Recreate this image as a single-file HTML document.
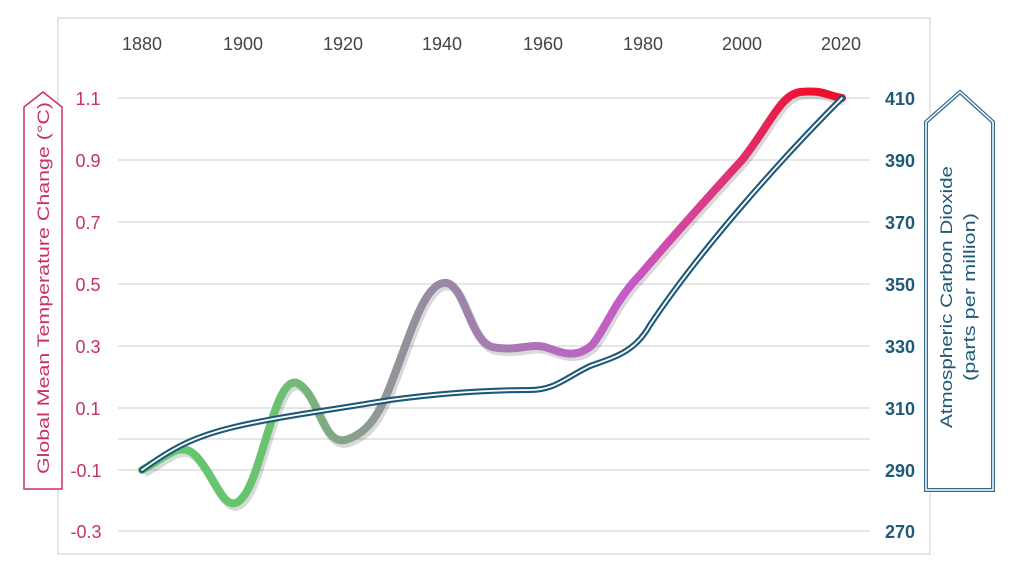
<!DOCTYPE html>
<html><head><meta charset="utf-8"><style>
body{margin:0;background:#fff;}
svg{display:block;font-family:"Liberation Sans",sans-serif;}
</style></head><body>
<svg width="1024" height="576" viewBox="0 0 1024 576">
<defs>
<linearGradient id="tg" gradientUnits="userSpaceOnUse" x1="142" y1="0" x2="842" y2="0">
<stop offset="0" stop-color="#5ccd6a"/>
<stop offset="0.2" stop-color="#6cc070"/>
<stop offset="0.3" stop-color="#8a9f8c"/>
<stop offset="0.43" stop-color="#9a88a6"/>
<stop offset="0.62" stop-color="#b868c0"/>
<stop offset="0.7" stop-color="#c858c8"/>
<stop offset="0.85" stop-color="#e03070"/>
<stop offset="0.95" stop-color="#f01030"/>
<stop offset="1" stop-color="#e81030"/>
</linearGradient>
</defs>
<rect x="58" y="18" width="872" height="536" fill="none" stroke="#ddd" stroke-width="1.5"/>
<g stroke="#ddd" stroke-width="1.5">
<line x1="118" x2="870" y1="98" y2="98"/><line x1="118" x2="870" y1="160" y2="160"/>
<line x1="118" x2="870" y1="222" y2="222"/><line x1="118" x2="870" y1="284" y2="284"/>
<line x1="118" x2="870" y1="346" y2="346"/><line x1="118" x2="870" y1="408" y2="408"/>
<line x1="118" x2="870" y1="439" y2="439"/><line x1="118" x2="870" y1="470" y2="470"/>
<line x1="118" x2="870" y1="531" y2="531"/>
</g>
<g fill="#444" font-size="18" text-anchor="middle">
<text x="142" y="50">1880</text><text x="243" y="50">1900</text><text x="343" y="50">1920</text>
<text x="442" y="50">1940</text><text x="543" y="50">1960</text><text x="643" y="50">1980</text>
<text x="742" y="50">2000</text><text x="841" y="50">2020</text>
</g>
<g fill="#c8306a" font-size="18" text-anchor="middle">
<text x="88" y="105">1.1</text><text x="88" y="167">0.9</text><text x="88" y="229">0.7</text>
<text x="88" y="291">0.5</text><text x="88" y="353">0.3</text><text x="88" y="415">0.1</text>
<text x="86" y="477">-0.1</text><text x="86" y="538">-0.3</text>
</g>
<g fill="#1e5a78" font-size="18" font-weight="bold" text-anchor="middle">
<text x="900" y="105">410</text><text x="900" y="167">390</text><text x="900" y="229">370</text>
<text x="900" y="291">350</text><text x="900" y="353">330</text><text x="900" y="415">310</text>
<text x="900" y="477">290</text><text x="900" y="538">270</text>
</g>
<polygon points="24,489 24,107 43,92 62,107 62,489" fill="#fff" stroke="#c8306a" stroke-width="1.5"/>
<text transform="translate(49,288) rotate(-90)" text-anchor="middle" fill="#c8306a" font-size="17" textLength="372" lengthAdjust="spacingAndGlyphs">Global Mean Temperature Change (°C)</text>
<polygon points="926,490 926,122 960,92 993,122 993,490" fill="#fff" stroke="#2c6e8c" stroke-width="4"/>
<polygon points="926,490 926,122 960,92 993,122 993,490" fill="none" stroke="#fff" stroke-width="1.5"/>
<text transform="translate(952,297) rotate(-90)" text-anchor="middle" fill="#1e5a78" font-size="17" textLength="262" lengthAdjust="spacingAndGlyphs">Atmospheric Carbon Dioxide</text>
<text transform="translate(975,297) rotate(-90)" text-anchor="middle" fill="#1e5a78" font-size="17" textLength="168" lengthAdjust="spacingAndGlyphs">(parts per million)</text>
<path d="M142,470 C165,458 180,440 195,455 C215,475 225,520 243,497 C262,475 275,375 297,383 C318,392 322,445 345,440 C375,432 385,400 400,360 C415,320 428,280 447,283 C465,287 470,340 492,347 C515,352 530,343 545,347 C560,352 575,360 592,345 C605,330 615,300 640,275 C680,228 710,195 742,160 C770,125 780,95 800,92 C825,90 825,95 842,98" fill="none" stroke="#000" stroke-opacity="0.15" stroke-width="9" transform="translate(2,3)"/>
<path d="M142,470 C165,458 180,440 195,455 C215,475 225,520 243,497 C262,475 275,375 297,383 C318,392 322,445 345,440 C375,432 385,400 400,360 C415,320 428,280 447,283 C465,287 470,340 492,347 C515,352 530,343 545,347 C560,352 575,360 592,345 C605,330 615,300 640,275 C680,228 710,195 742,160 C770,125 780,95 800,92 C825,90 825,95 842,98" fill="none" stroke="url(#tg)" stroke-width="8" stroke-linecap="round"/>
<path d="M142,470 C170,450 190,438 230,428 C270,418 330,410 390,400 C450,392 500,390 530,390 C555,390 565,378 590,366 C615,357 635,352 650,325 C700,250 780,160 842,98" fill="none" stroke="#1e5a78" stroke-width="6" stroke-linecap="round"/>
<path d="M142,470 C170,450 190,438 230,428 C270,418 330,410 390,400 C450,392 500,390 530,390 C555,390 565,378 590,366 C615,357 635,352 650,325 C700,250 780,160 842,98" fill="none" stroke="#fff" stroke-width="1.8" stroke-linecap="round"/>
</svg>
</body></html>
